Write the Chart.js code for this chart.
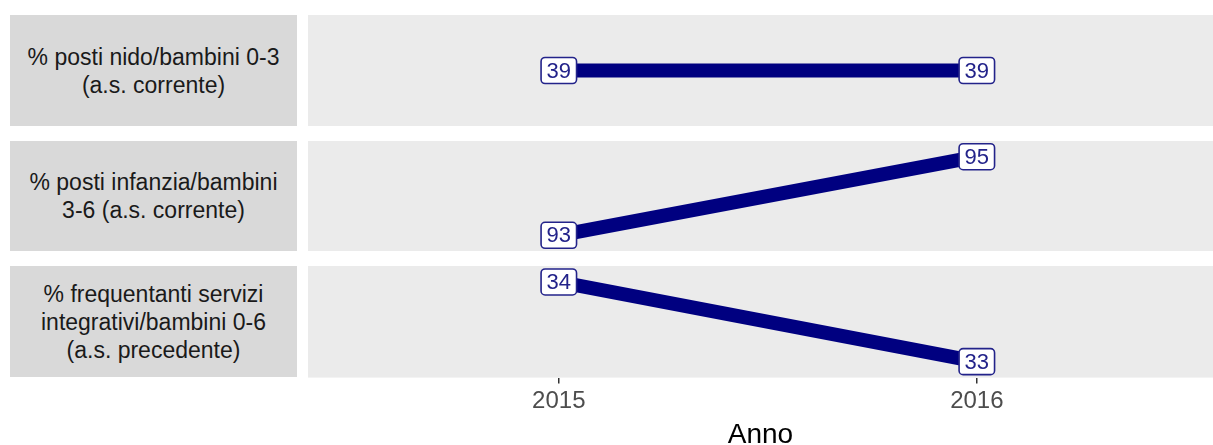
<!DOCTYPE html>
<html>
<head>
<meta charset="utf-8">
<script src="https://cdn.jsdelivr.net/npm/chart.js@4.4.1/dist/chart.umd.min.js"></script>
<style>
    html, body { margin: 0; padding: 0; background: #ffffff; overflow: hidden; }
    #wrap { position: relative; width: 1213px; height: 445px; }
    .strip {
        position: absolute; left: 10px; width: 287px; background: #d9d9d9;
        display: flex; align-items: center; justify-content: center; text-align: center;
        font-family: "Liberation Sans", Arial, sans-serif; font-size: 23px; line-height: 28px;
        color: #1a1a1a; white-space: pre-line;
    }
    canvas { position: absolute; left: 308px; }
</style>
</head>
<body>
<div id="wrap"></div>
<script>
// Data
const years = [2015, 2016];
const indicatorLabels = [
    '% posti nido/bambini 0-3\n(a.s. corrente)',
    '% posti infanzia/bambini\n3-6 (a.s. corrente)',
    '% frequentanti servizi\nintegrativi/bambini 0-6\n(a.s. precedente)'
];
const nidoValues = [39, 39];
const infanziaValues = [93, 95];
const integrativiValues = [34, 33];
const xTitle = 'Anno';

const panelSeries = [nidoValues, infanziaValues, integrativiValues];
const panelYRange = [[38, 40], [92.6, 95.4], [32.8, 34.2]];
const panelTop = [15, 141, 266];
const panelHeight = [111, 110, 111];

const lineColor = '#000080';
const fontFamily = '"Liberation Sans", Arial, sans-serif';

// grey panel background
const panelBg = {
    id: 'panelBg',
    beforeDraw(chart) {
        const a = chart.chartArea;
        const ctx = chart.ctx;
        ctx.save();
        ctx.fillStyle = '#ebebeb';
        ctx.fillRect(a.left, a.top, a.right - a.left, a.bottom - a.top);
        ctx.restore();
    }
};

// value labels in white rounded boxes
const valueLabels = {
    id: 'valueLabels',
    afterDatasetsDraw(chart) {
        const ctx = chart.ctx;
        ctx.save();
        ctx.font = '22px ' + fontFamily;
        ctx.textAlign = 'center';
        ctx.textBaseline = 'middle';
        chart.getDatasetMeta(0).data.forEach((pt, i) => {
            const txt = String(chart.data.datasets[0].data[i].y);
            const w = ctx.measureText(txt).width + 11;
            const h = 26;
            ctx.beginPath();
            ctx.roundRect(pt.x - w / 2, pt.y - h / 2, w, h, 4);
            ctx.fillStyle = '#ffffff';
            ctx.fill();
            ctx.lineWidth = 1.6;
            ctx.strokeStyle = '#23238a';
            ctx.stroke();
            ctx.fillStyle = '#23238a';
            ctx.fillText(txt, pt.x, pt.y + 1);
        });
        ctx.restore();
    }
};

const wrap = document.getElementById('wrap');

panelSeries.forEach((values, p) => {
    const strip = document.createElement('div');
    strip.className = 'strip';
    strip.style.top = panelTop[p] + 'px';
    strip.style.height = panelHeight[p] + 'px';
    strip.textContent = indicatorLabels[p];
    wrap.appendChild(strip);

    const isLast = p === panelSeries.length - 1;
    const canvas = document.createElement('canvas');
    canvas.width = 905;
    canvas.height = isLast ? panelHeight[p] + 75 : panelHeight[p];
    canvas.style.top = panelTop[p] + 'px';
    wrap.appendChild(canvas);

    new Chart(canvas.getContext('2d'), {
        type: 'line',
        data: {
            datasets: [{
                data: years.map((yr, i) => ({ x: yr, y: values[i] })),
                borderColor: lineColor,
                borderWidth: 14,
                pointRadius: 0,
                tension: 0
            }]
        },
        options: {
            responsive: false,
            animation: false,
            layout: { padding: 0 },
            plugins: { legend: { display: false }, tooltip: { enabled: false } },
            scales: {
                x: {
                    type: 'linear',
                    min: 2014.4,
                    max: 2016.565,
                    display: isLast,
                    afterBuildTicks: axis => { axis.ticks = years.map(v => ({ value: v })); },
                    grid: { drawOnChartArea: false, drawTicks: true, tickLength: 6, color: '#333333', lineWidth: 1.5 },
                    border: { display: false },
                    ticks: {
                        padding: 3,
                        color: '#4d4d4d',
                        font: { family: fontFamily, size: 24 },
                        callback: v => String(v)
                    },
                    title: {
                        display: true,
                        text: xTitle,
                        color: '#000000',
                        padding: { top: 0, bottom: 0 },
                        font: { family: fontFamily, size: 28 }
                    }
                },
                y: {
                    display: false,
                    min: panelYRange[p][0],
                    max: panelYRange[p][1]
                }
            }
        },
        plugins: [panelBg, valueLabels]
    });
});
</script>
</body>
</html>
